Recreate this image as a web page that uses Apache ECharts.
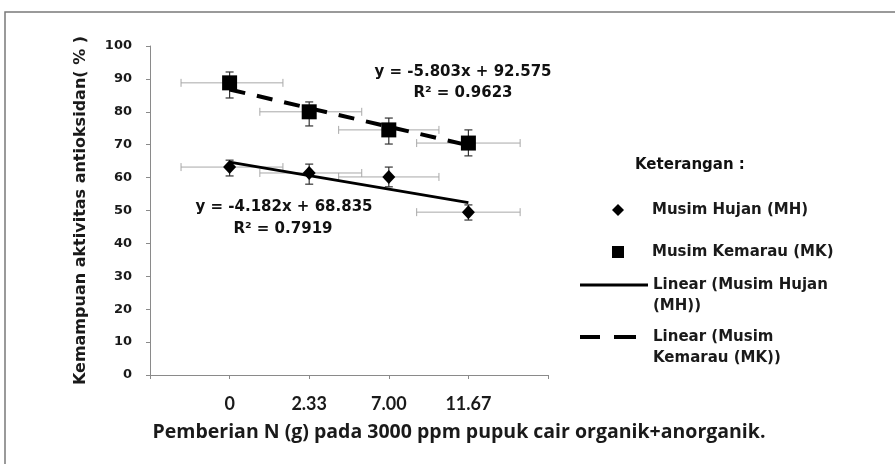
<!DOCTYPE html>
<html>
<head>
<meta charset="utf-8">
<script src="https://cdn.jsdelivr.net/npm/echarts@6/dist/echarts.min.js"></script>
<style>
  html, body { margin: 0; padding: 0; background: #fff; }
  #chart { width: 895px; height: 464px; }
</style>
</head>
<body>
<div id="chart"></div>
<script>
// category positions on the x axis and the labels Excel printed under them
const xPos = [1, 2, 3, 4];
const xTickLabels = ['0', '2.33', '7.00', '11.67'];

// Musim Hujan (MH)
const mhValues = [63.2, 61.4, 60.2, 49.5];
const mhErrLow = [60.5, 58.0, 57.2, 47.1];
const mhErrHigh = [65.3, 64.1, 63.2, 51.7];
const mhXLow = [0.39, 1.38, 2.37, 3.35];
const mhXHigh = [1.67, 2.66, 3.63, 4.65];

// Musim Kemarau (MK)
const mkValues = [88.8, 80.0, 74.5, 70.5];
const mkErrLow = [84.2, 75.7, 70.2, 66.6];
const mkErrHigh = [92.1, 83.0, 78.1, 74.5];
const mkXLow = [0.39, 1.38, 2.37, 3.35];
const mkXHigh = [1.67, 2.66, 3.63, 4.65];

// trend line end points (x = 1 and x = 4)
const mhTrend = [64.7, 52.4];
const mkTrend = [86.8, 69.8];

const chart = echarts.init(document.getElementById('chart'));

const toPoints = vals => vals.map((v, i) => [xPos[i], v]);
const toErr = (vals, lo, hi, xl, xh) => vals.map((v, i) => [xPos[i], v, lo[i], hi[i], xl[i], xh[i]]);

// draws one set of x and y error bars
function renderErr(params, api) {
  const x = api.value(0), y = api.value(1);
  const top = api.coord([x, api.value(3)]);
  const bot = api.coord([x, api.value(2)]);
  const left = api.coord([api.value(4), y]);
  const right = api.coord([api.value(5), y]);
  const vStyle = { stroke: '#333', lineWidth: 1.2 };
  const hStyle = { stroke: '#a8a8a8', lineWidth: 1 };
  return {
    type: 'group',
    children: [
      { type: 'line', shape: { x1: left[0], y1: left[1], x2: right[0], y2: right[1] }, style: hStyle },
      { type: 'line', shape: { x1: left[0], y1: left[1] - 4, x2: left[0], y2: left[1] + 4 }, style: hStyle },
      { type: 'line', shape: { x1: right[0], y1: right[1] - 4, x2: right[0], y2: right[1] + 4 }, style: hStyle },
      { type: 'line', shape: { x1: top[0], y1: top[1], x2: bot[0], y2: bot[1] }, style: vStyle },
      { type: 'line', shape: { x1: top[0] - 4, y1: top[1], x2: top[0] + 4, y2: top[1] }, style: vStyle },
      { type: 'line', shape: { x1: bot[0] - 4, y1: bot[1], x2: bot[0] + 4, y2: bot[1] }, style: vStyle }
    ]
  };
}

const legendFont = { fontFamily: 'DejaVu Sans', fontSize: 15, fontWeight: 'bold', color: '#1a1a1a' };
const eqFont = { fontFamily: 'DejaVu Sans', fontSize: 15, fontWeight: 'bold', fill: '#111', align: 'center', verticalAlign: 'middle' };

const option = {
  animation: false,
  backgroundColor: '#fff',
  grid: { left: 150, top: 46, width: 398, height: 329 },
  xAxis: {
    type: 'value',
    min: 0,
    max: 5,
    interval: 1,
    axisLine: { lineStyle: { color: '#8a8a8a', width: 1 } },
    axisTick: { show: true, length: 4, lineStyle: { color: '#8a8a8a' } },
    splitLine: { show: false },
    axisLabel: {
      margin: 20,
      fontFamily: 'Lato',
      fontSize: 18,
      fontWeight: 'bold',
      color: '#1a1a1a',
      formatter: v => {
        const i = xPos.indexOf(v);
        return i >= 0 ? xTickLabels[i] : '';
      }
    },
    name: 'Pemberian N (g) pada 3000 ppm pupuk cair organik+anorganik.',
    nameLocation: 'middle',
    nameGap: 47,
    nameTextStyle: { fontFamily: 'Open Sans', fontSize: 19.5, fontWeight: 'bold', color: '#1a1a1a', padding: [0, 0, 0, 220] }
  },
  yAxis: {
    type: 'value',
    min: 0,
    max: 100,
    interval: 10,
    axisLine: { show: true, lineStyle: { color: '#8a8a8a', width: 1 } },
    axisTick: { show: true, length: 4, lineStyle: { color: '#8a8a8a' } },
    splitLine: { show: false },
    axisLabel: { margin: 18, fontFamily: 'DejaVu Sans', fontSize: 13, fontWeight: 'bold', color: '#1a1a1a' },
    name: 'Kemampuan aktivitas antioksidan( % )',
    nameLocation: 'middle',
    nameGap: 61,
    nameTextStyle: { fontFamily: 'DejaVu Sans', fontSize: 16, fontWeight: 'bold', color: '#1a1a1a' }
  },
  legend: [
    {
      data: ['Musim Hujan (MH)'], left: 612, top: 201.5, padding: 0,
      itemWidth: 12, itemHeight: 12, icon: 'diamond',
      textStyle: Object.assign({ lineHeight: 17, padding: [0, 0, 0, 23] }, legendFont)
    },
    {
      data: ['Musim Kemarau (MK)'], left: 612, top: 243.5, padding: 0,
      itemWidth: 12, itemHeight: 12, icon: 'rect',
      textStyle: Object.assign({ lineHeight: 17, padding: [0, 0, 0, 23] }, legendFont)
    },
    {
      data: ['Linear (Musim Hujan (MH))'], left: 580, top: 253.5, padding: 0,
      itemWidth: 68, itemHeight: 3,
      icon: 'path://M0,0 h68 v3 h-68 z',
      formatter: () => '\nLinear (Musim Hujan\n(MH))',
      textStyle: Object.assign({ lineHeight: 21 }, legendFont)
    },
    {
      data: ['Linear (Musim Kemarau (MK))'], left: 580, top: 305.5, padding: 0,
      itemWidth: 56, itemHeight: 4,
      icon: 'path://M0,0 h20 v4 h-20 z M34,0 h22 v4 h-22 z',
      formatter: () => '\nLinear (Musim\nKemarau (MK))',
      textStyle: Object.assign({ lineHeight: 21, padding: [0, 0, 0, 12] }, legendFont)
    }
  ],
  graphic: [
    { type: 'rect', shape: { x: 5, y: 12, width: 900, height: 470 }, style: { fill: 'none', stroke: '#7a7a7a', lineWidth: 1.5 }, silent: true },
    { type: 'text', x: 635, y: 165, style: Object.assign({}, eqFont, { text: 'Keterangan :', align: 'left' }) },
    { type: 'text', x: 463, y: 72, style: Object.assign({ text: 'y = -5.803x + 92.575' }, eqFont) },
    { type: 'text', x: 463, y: 93, style: Object.assign({ text: 'R² = 0.9623' }, eqFont) },
    { type: 'text', x: 284, y: 207, style: Object.assign({ text: 'y = -4.182x + 68.835' }, eqFont) },
    { type: 'text', x: 283, y: 229, style: Object.assign({ text: 'R² = 0.7919' }, eqFont) }
  ],
  series: [
    {
      name: 'Error MH', type: 'custom', renderItem: renderErr, z: 1,
      data: toErr(mhValues, mhErrLow, mhErrHigh, mhXLow, mhXHigh)
    },
    {
      name: 'Error MK', type: 'custom', renderItem: renderErr, z: 1,
      data: toErr(mkValues, mkErrLow, mkErrHigh, mkXLow, mkXHigh)
    },
    {
      name: 'Linear (Musim Hujan (MH))', type: 'line', symbol: 'none', z: 2,
      lineStyle: { color: '#000', width: 3 },
      itemStyle: { color: '#000' },
      data: [[xPos[0], mhTrend[0]], [xPos[3], mhTrend[1]]]
    },
    {
      name: 'Linear (Musim Kemarau (MK))', type: 'line', symbol: 'none', z: 2,
      lineStyle: { color: '#000', width: 4, type: [16, 12] },
      itemStyle: { color: '#000' },
      data: [[xPos[0], mkTrend[0]], [xPos[3], mkTrend[1]]]
    },
    {
      name: 'Musim Hujan (MH)', type: 'scatter', symbol: 'diamond', symbolSize: [13, 14], z: 3,
      itemStyle: { color: '#000', opacity: 1 },
      data: toPoints(mhValues)
    },
    {
      name: 'Musim Kemarau (MK)', type: 'scatter', symbol: 'rect', symbolSize: 15, z: 3,
      itemStyle: { color: '#000', opacity: 1 },
      data: toPoints(mkValues)
    }
  ]
};

chart.setOption(option);
</script>
</body>
</html>
